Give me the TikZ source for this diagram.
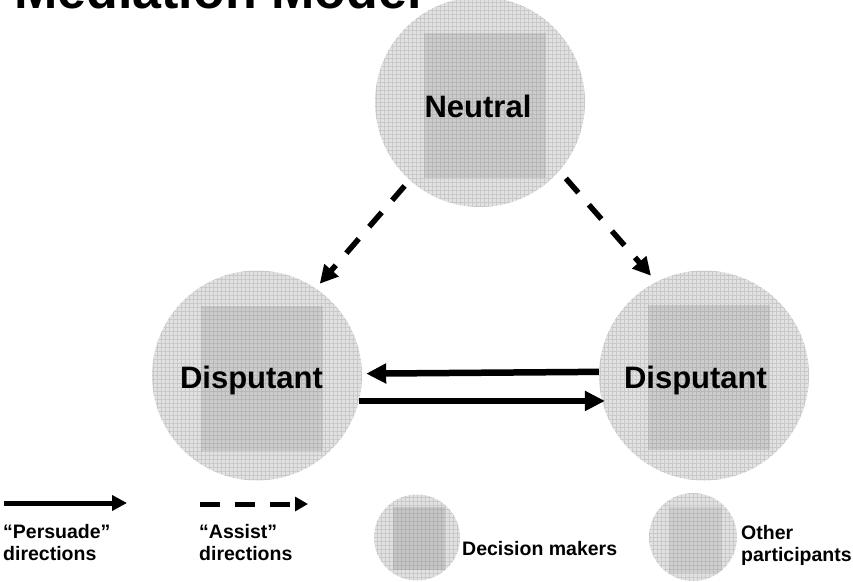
\documentclass[tikz,border=0pt]{standalone}
\usepackage{fontspec}
\setmainfont{Liberation Sans}
\usetikzlibrary{arrows.meta,calc}
\definecolor{discfill}{RGB}{226,226,226}
\definecolor{sqfill}{RGB}{204,204,204}
\definecolor{sqdark}{RGB}{198,198,198}
\definecolor{sqlight}{RGB}{208,208,208}
\tikzset{
  disc/.style n args={6}{circle, minimum size=#1, inner sep=0pt, fill=discfill,
    path picture={
      \fill[#4] ([shift={(#5,#6)}]path picture bounding box.center) +(-#2,-#3) rectangle +(#2,#3);
      \draw[black!70, opacity=0.16, line width=0.5pt, step=4pt]
        ([shift={(-120pt,-120pt)}]path picture bounding box.center) grid
        ([shift={(120pt,120pt)}]path picture bounding box.center);
    }},
  lbl/.style={inner sep=0pt, anchor=base, font=\fontsize{31}{31}\selectfont\bfseries},
  legtext/.style={inner sep=0pt, anchor=base west, align=left, font=\fontsize{19.5}{22}\selectfont\bfseries},
  persuade/.style={line width=6.5pt, -{Triangle[length=20pt,width=19pt]}},
  assist/.style={line width=5.5pt, dash pattern=on 19pt off 16pt, -{Triangle[length=18pt,width=18pt]}},
  legpersuade/.style={line width=5pt, -{Triangle[length=15pt,width=15pt]}},
  legassist/.style={line width=5pt, dash pattern=on 20pt off 15pt, -{Triangle[length=13pt,width=14pt]}},
}
\begin{document}
\begin{tikzpicture}[x=1pt, y=-1pt]
\useasboundingbox (0,0) rectangle (853,581);

% title (cut off at the top)
\node[inner sep=0pt, anchor=base west, font=\fontsize{52}{52}\selectfont\bfseries] (title) at (14,8) {Mediation Model};

% main circles
\node[disc={210pt}{61pt}{72.5pt}{sqfill}{5pt}{-3pt}] (neu) at (480,102) {};
\node[disc={210pt}{61pt}{72.5pt}{sqfill}{5pt}{-2.5pt}] (ld) at (257,375.5) {};
\node[disc={210pt}{61pt}{72.5pt}{sqfill}{4.5pt}{-2pt}] (rd) at (704,375.5) {};

\node[lbl] (tneu) at (478,117) {Neutral};
\node[lbl] (tld) at (251.5,388) {Disputant};
\node[lbl] (trd) at (695.5,388) {Disputant};

% persuade arrows
\draw[persuade, shorten >=4pt] (rd.178.6) -- (ld.1.4);
\draw[persuade, shorten >=-3pt] (ld.-14.6) -- (rd.194.6);

% assist arrows
\draw[assist, shorten <=7.6pt, shorten >=6pt] (neu.228.2) -- (ld.56.2);
\draw[assist, shorten <=9.8pt, shorten >=8pt] (neu.-41.5) -- (rd.117.4);

% legend
\coordinate (lp1) at (4,503);
\coordinate (lp2) at (127,503);
\draw[legpersuade] (lp1) -- (lp2);
\coordinate (la1) at (200,504);
\coordinate (la2) at (308,504);
\draw[legassist] (la1) -- (la2);

\node[legtext] (tpersuade) at (3,560) {“Persuade”\\directions};
\node[legtext] (tassist) at (199,560) {“Assist”\\directions};

\node[disc={86pt}{26pt}{31.5pt}{sqdark}{2pt}{-1pt}] (ldm) at (417,537.5) {};
\node[legtext] (tdm) at (462,555) {Decision makers};

\node[disc={88pt}{26.5pt}{33pt}{sqlight}{2.5pt}{-2.5pt}] (lop) at (693,537) {};
\node[legtext] (top) at (741,561) {Other\\participants};
\end{tikzpicture}
\end{document}
